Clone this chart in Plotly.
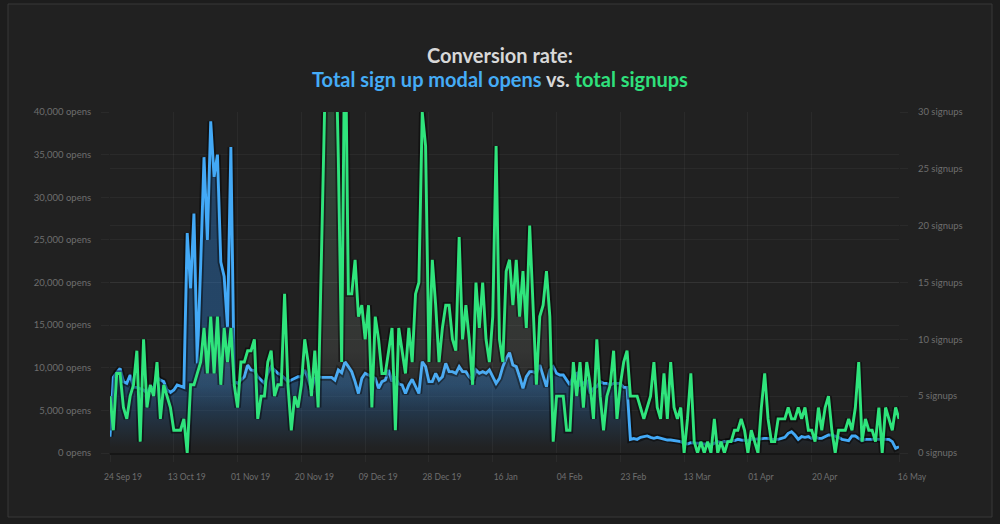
import pandas as pd
import plotly.graph_objects as go

# ---------------- data ----------------
start_date = "2019-09-24"

modal_opens = [
    1920, 8880, 9420, 9930, 8370, 8170, 9150, 7700, 7700, 7580, 7390, 7080, 7700, 7700, 8880, 8560,
    8370, 7390, 7100, 7390, 7980, 7850, 7700,
    25800, 19300, 28100, 10500, 22000, 34700, 25000, 38900, 32400, 35000, 22400, 20700, 14800, 35900, 8370,
    8170, 8560, 8950, 10320, 9740, 9660, 8950, 8560, 8170, 9350, 10130, 9740, 9350,
    9150, 8760, 8370, 8560, 8750, 8950, 8950, 9740, 8760, 7390, 8760, 8950, 8870, 8870, 8870,
    8870, 8560, 9740, 9420, 10710, 10130, 9540, 8370, 6980, 8760, 9350, 9150, 8950, 8760, 7580,
    8370, 8560, 9740, 8370, 8950, 8090, 7980, 6980, 7980, 8640, 7780, 6980, 10710, 10130, 8370,
    8370, 9350, 8560, 8950, 10520, 9540, 9540, 9350,
    10130, 9540, 9540, 8950, 8560, 9740, 9350, 9540, 9350, 9740, 8950, 8170, 8760, 10130, 11100,
    11770, 10320, 10130, 8950, 7580, 8950, 9540, 9540, 9350, 10320, 9150, 7780, 9740, 10130, 9350,
    9150, 9150, 8560, 7980, 9150, 9350, 7980, 8170, 8560, 6980, 7580, 7780, 8370, 8170, 8170,
    7980, 8170, 8170, 8170, 7700, 7700, 1600, 1700, 1600,
    1840, 1920, 2000, 1840, 1720, 1840, 1720, 1600, 1520, 1520, 1450, 1450, 1330, 1130, 1060,
    1210, 1210, 1130, 1130, 1060, 1060, 940, 1130, 1330, 1210, 1330, 1330, 1450, 1450, 1600,
    1520, 1520, 1450, 1600, 1600, 1680, 1680, 1720, 1720, 1600, 1600, 1600, 1720, 1840, 2310,
    2500, 2110, 1600, 1920, 1840, 1920, 1720, 1920, 1720, 1720, 1920, 2110, 2110, 2000, 1840,
    1600, 1520, 1450, 2000, 2000, 1720, 1450, 1600, 1600, 1600, 1600, 1600, 1600, 1600, 1600,
    1330, 550, 740,
]

signups = [
    5, 2, 7, 7, 4, 3, 5, 6, 9, 1, 10, 4, 6, 5, 8, 3, 6, 5, 4, 2, 2, 2, 3, 0, 6, 6, 7, 8, 11, 7,
    12, 7, 12, 6, 11, 8, 11, 6, 4, 8, 8, 9, 9, 10, 3, 5, 5, 8, 9, 5, 6, 6, 14, 6, 2, 5, 4,
    6, 10, 8, 5, 9, 4, 17, 31, 45, 45, 40, 26, 8, 40, 14, 14, 17, 12, 13, 10, 13, 4, 12, 10,
    7, 7, 9, 11, 2, 11, 9, 7, 11, 8, 14, 15, 30, 27, 8, 17, 13, 8, 11, 13, 13, 10, 9, 19, 10,
    13, 10, 6, 15, 11,
    15, 10, 8, 12, 27, 10, 8, 16, 17, 13, 17, 12, 16, 11, 20, 13, 6, 12, 13, 16, 12, 1, 5, 5,
    5, 2, 2, 8, 5, 8, 4, 8, 6, 3, 10, 5, 2, 5, 6, 9, 3, 6, 8, 9, 5, 5, 5, 4, 3, 4, 5, 8, 4, 3,
    7, 3, 8, 4, 3, 4, 0, 3, 7, 1, 0, 1, 0, 1, 0, 3, 0, 1, 0, 1, 1, 2, 2, 3, 2, 0, 2, 1, 0, 4,
    7, 3, 1, 1, 3, 3, 3, 4, 3, 3, 4, 3, 4, 2, 2, 1, 4, 2, 4, 5, 2, 0, 2, 2, 2, 3, 2, 4, 8, 1,
    3, 2, 2, 1, 4, 0, 4, 3, 2, 4, 3,
]

x_tick_dates = ["2019-09-24", "2019-10-13", "2019-11-01", "2019-11-20", "2019-12-09",
                "2019-12-28", "2020-01-16", "2020-02-04", "2020-02-23", "2020-03-13",
                "2020-04-01", "2020-04-20", "2020-05-16"]
x_tick_labels = ["24 Sep 19", "13 Oct 19", "01 Nov 19", "20 Nov 19", "09 Dec 19", "28 Dec 19",
                 "16 Jan", "04 Feb", "23 Feb", "13 Mar", "01 Apr", "20 Apr", "16 May"]

opens_ticks = [0, 5000, 10000, 15000, 20000, 25000, 30000, 35000, 40000]
signup_ticks = [0, 5, 10, 15, 20, 25, 30]

dates = pd.date_range(start_date, periods=len(signups), freq="D")

# ---------------- style ----------------
BLUE = "#43a9f6"
GREEN = "#2fe47c"
GRID = "rgba(255,255,255,0.045)"
TICK_COL = "#6e6e6e"
FONT = "Lato"

W, H = 1000, 524
L, R, T, B = 110, 101, 112, 71
pw, ph = W - L - R, H - T - B


def px_x(x):
    return (x - L) / pw


def px_y(y):
    return (H - B - y) / ph


fig = go.Figure()

# blue fill (opens)
fig.add_trace(go.Scatter(
    x=dates, y=modal_opens, mode="lines", line=dict(width=0, color=BLUE),
    fill="tozeroy",
    fillgradient=dict(type="vertical", start=0, stop=8000,
                      colorscale=[[0, "rgba(40,110,180,0)"], [0.1, "rgba(40,110,180,0.02)"],
                                  [1, "rgba(40,110,180,0.47)"]]),
    hoverinfo="skip", showlegend=False, yaxis="y"))
# blue shadow + line
fig.add_trace(go.Scatter(x=dates, y=modal_opens, mode="lines",
                         line=dict(width=6.5, color="rgba(0,0,0,0.45)"),
                         hoverinfo="skip", showlegend=False, yaxis="y"))
fig.add_trace(go.Scatter(x=dates, y=modal_opens, mode="lines",
                         line=dict(width=2.9, color=BLUE),
                         name="opens", showlegend=False, yaxis="y"))

# green fill (signups)
fig.add_trace(go.Scatter(
    x=dates, y=signups, mode="lines", line=dict(width=0, color=GREEN),
    fill="tozeroy",
    fillgradient=dict(type="vertical", start=0, stop=30,
                      colorscale=[[0, "rgba(190,200,190,0)"], [0.13, "rgba(190,200,190,0)"],
                                  [0.3, "rgba(190,200,190,0.12)"], [0.6, "rgba(150,200,160,0.15)"],
                                  [1, "rgba(90,200,125,0.22)"]]),
    hoverinfo="skip", showlegend=False, yaxis="y2"))
fig.add_trace(go.Scatter(x=dates, y=signups, mode="lines",
                         line=dict(width=6.5, color="rgba(0,0,0,0.45)"),
                         hoverinfo="skip", showlegend=False, yaxis="y2"))
fig.add_trace(go.Scatter(x=dates, y=signups, mode="lines",
                         line=dict(width=2.9, color=GREEN),
                         name="signups", showlegend=False, yaxis="y2"))

fig.update_layout(
    template="none",
    width=W, height=H,
    margin=dict(l=L, r=R, t=T, b=B, pad=0),
    paper_bgcolor="#1d1d1d",
    plot_bgcolor="rgba(0,0,0,0)",
    showlegend=False,
    font=dict(family=FONT, color=TICK_COL),
    xaxis=dict(
        type="date", range=[dates[0], dates[-1]],
        tickmode="array", tickvals=x_tick_dates, ticktext=x_tick_labels,
        ticks="outside", ticklen=7, tickwidth=1, tickcolor=GRID,
        showgrid=True, gridcolor=GRID, gridwidth=1,
        zeroline=False, showline=True, linecolor="#161616", linewidth=2,
        tickfont=dict(family=FONT, size=8.5, color=TICK_COL),
        ticklabelshift=13, ticklabelstandoff=8, automargin=False, fixedrange=True,
    ),
    yaxis=dict(
        range=[0, 40000], tickmode="array", tickvals=opens_ticks,
        ticktext=[f"{v:,} opens" for v in opens_ticks],
        ticks="outside", ticklen=8, tickwidth=1, tickcolor=GRID,
        showgrid=True, gridcolor=GRID, gridwidth=1, zeroline=False, showline=False,
        tickfont=dict(family=FONT, size=9.5, color=TICK_COL),
        ticklabelstandoff=8, automargin=False, fixedrange=True,
    ),
    yaxis2=dict(
        overlaying="y", side="right", range=[0, 30], tickmode="array",
        tickvals=signup_ticks, ticktext=[f"{v} signups" for v in signup_ticks],
        ticks="outside", ticklen=8, tickwidth=1, tickcolor=GRID,
        showgrid=True, gridcolor=GRID, gridwidth=1, zeroline=False, showline=False,
        tickfont=dict(family=FONT, size=9.5, color=TICK_COL),
        ticklabelstandoff=8, automargin=False, fixedrange=True,
    ),
    shapes=[dict(type="rect", xref="paper", yref="paper",
                 x0=px_x(8), x1=px_x(992), y0=px_y(517), y1=px_y(4),
                 line=dict(color="#383838", width=1), fillcolor="#212121", layer="below")],
    annotations=[
        dict(xref="paper", yref="paper", x=px_x(500), y=px_y(55), xanchor="center",
             yanchor="middle", showarrow=False,
             text="<b>Conversion rate:</b>",
             font=dict(family=FONT, size=20, color="#d8d8d8")),
        dict(xref="paper", yref="paper", x=px_x(500), y=px_y(79), xanchor="center",
             yanchor="middle", showarrow=False,
             text=("<b><span style='color:#45acf6'>Total sign up modal opens</span> vs. "
                   "<span style='color:#2fe07c'>total signups</span></b>"),
             font=dict(family=FONT, size=20, color="#d8d8d8")),
    ],
)

fig.write_html("out.html", config={"displayModeBar": False},
               post_script="document.body.style.margin='0';document.body.style.overflow='hidden';")
